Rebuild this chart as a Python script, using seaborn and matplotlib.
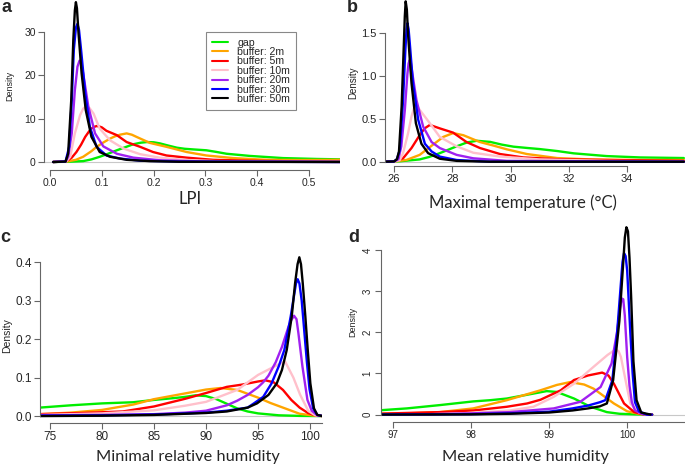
import matplotlib
matplotlib.use("Agg")
import matplotlib.pyplot as plt
from matplotlib.lines import Line2D
import seaborn as sns
import pandas as pd

series_names = ["gap", "buffer: 2m", "buffer: 5m", "buffer: 10m",
                "buffer: 20m", "buffer: 30m", "buffer: 50m"]
series_colors = ["#00ee00", "#ffa500", "#ff0000", "#ffc0cb",
                 "#a020f0", "#0000ff", "#000000"]

# panel a: LPI
lpi_x = {
    "gap": [0.006, 0.03, 0.045, 0.064, 0.08, 0.096, 0.112, 0.129, 0.145, 0.161, 0.175, 0.187, 0.2, 0.212,
            0.228, 0.245, 0.26, 0.277, 0.302, 0.32, 0.341, 0.386, 0.45, 0.515, 0.565],
    "buffer: 2m": [0.006, 0.032, 0.05, 0.064, 0.08, 0.09, 0.103, 0.116, 0.125, 0.135, 0.148, 0.158, 0.167,
                   0.18, 0.193, 0.225, 0.264, 0.302, 0.354, 0.418, 0.483, 0.565],
    "buffer: 5m": [0.006, 0.032, 0.042, 0.051, 0.06, 0.068, 0.075, 0.08, 0.085, 0.09, 0.095, 0.1, 0.109,
                   0.129, 0.148, 0.174, 0.199, 0.225, 0.264, 0.315, 0.386, 0.5, 0.565],
    "buffer: 10m": [0.006, 0.032, 0.039, 0.048, 0.058, 0.064, 0.069, 0.076, 0.084, 0.096, 0.116, 0.142,
                    0.174, 0.212, 0.257, 0.32, 0.4, 0.565],
    "buffer: 20m": [0.006, 0.03, 0.035, 0.042, 0.048, 0.053, 0.057, 0.06, 0.064, 0.074, 0.087, 0.103,
                    0.129, 0.161, 0.212, 0.3, 0.565],
    "buffer: 30m": [0.006, 0.03, 0.037, 0.042, 0.046, 0.05, 0.053, 0.056, 0.06, 0.068, 0.077, 0.09,
                    0.109, 0.135, 0.174, 0.25, 0.565],
    "buffer: 50m": [0.006, 0.03, 0.035, 0.041, 0.045, 0.048, 0.05, 0.052, 0.055, 0.061, 0.069, 0.08,
                    0.096, 0.116, 0.148, 0.193, 0.25, 0.565],
}
lpi_y = {
    "gap": [0, 0.05, 0.1, 0.2, 0.6, 1.2, 1.9, 2.7, 3.4, 4.1, 4.45, 4.6, 4.55, 4.3,
            3.8, 3.3, 3.05, 2.9, 2.7, 2.35, 1.9, 1.4, 0.9, 0.7, 0.6],
    "buffer: 2m": [0, 0.1, 0.5, 1.2, 2.5, 3.5, 4.5, 5.4, 5.9, 6.3, 6.6, 6.3, 5.8,
                   5.1, 4.4, 3.5, 2.3, 1.5, 0.9, 0.5, 0.45, 0.5],
    "buffer: 5m": [0, 0.2, 1.0, 2.3, 4.0, 5.8, 7.0, 7.7, 8.1, 8.3, 8.2, 8.0, 7.2,
                   6.2, 4.6, 3.5, 2.3, 1.5, 1.0, 0.5, 0.3, 0.1, 0.05],
    "buffer: 10m": [0, 0.2, 1.2, 6.6, 10.8, 12.3, 12.8, 12.5, 11.2, 7.7, 5.0, 3.1,
                    1.8, 1.0, 0.5, 0.2, 0.1, 0.02],
    "buffer: 20m": [0, 0.1, 1.2, 6.6, 16.6, 22.0, 23.4, 22.8, 20.5, 12.8, 6.6, 3.6,
                    1.9, 1.0, 0.4, 0.1, 0.0],
    "buffer: 30m": [0, 0.1, 3.5, 14.3, 25.9, 31.0, 31.9, 30.5, 25.9, 15.9, 8.1, 3.5,
                    1.5, 0.8, 0.3, 0.1, 0.0],
    "buffer: 50m": [0, 0.1, 1.9, 14.3, 28.2, 35.0, 36.9, 35.5, 29.8, 20.5, 12.0, 5.8,
                    2.3, 1.2, 0.5, 0.2, 0.05, 0.0],
}

# panel b: maximal temperature
tmax_x = {
    "gap": [25.6, 26.2, 26.88, 27.2, 27.57, 28.15, 28.5, 28.84, 29.3, 29.7, 30.1, 30.6, 31.0, 31.6,
            32.17, 33.3, 34.46, 35.95],
    "buffer: 2m": [25.6, 26.0, 26.42, 26.88, 27.34, 27.69, 28.03, 28.38, 28.95, 29.4, 29.87, 30.56,
                   31.6, 32.74, 34.46, 35.95],
    "buffer: 5m": [25.6, 26.0, 26.31, 26.6, 26.88, 27.05, 27.23, 27.57, 28.03, 28.49, 28.95, 29.64,
                   30.44, 31.6, 33.3, 35.95],
    "buffer: 10m": [25.6, 26.0, 26.2, 26.31, 26.48, 26.6, 26.68, 26.75, 26.83, 26.94, 27.23, 27.57,
                    28.15, 28.72, 29.64, 31.0, 33.3, 35.95],
    "buffer: 20m": [25.6, 26.0, 26.15, 26.25, 26.37, 26.46, 26.5, 26.54, 26.58, 26.63, 26.77, 27.0,
                    27.29, 27.57, 28.15, 28.72, 29.87, 35.95],
    "buffer: 30m": [25.6, 26.0, 26.1, 26.2, 26.31, 26.39, 26.43, 26.46, 26.5, 26.54, 26.65, 26.83,
                    27.06, 27.29, 27.57, 28.15, 29.3, 35.95],
    "buffer: 50m": [25.6, 26.0, 26.1, 26.17, 26.26, 26.33, 26.37, 26.4, 26.44, 26.48, 26.54, 26.6,
                    26.75, 26.94, 27.17, 27.57, 28.15, 29.3, 35.95],
}
tmax_y = {
    "gap": [0, 0.005, 0.027, 0.055, 0.1, 0.18, 0.225, 0.245, 0.232, 0.2, 0.176, 0.16, 0.148, 0.125,
            0.098, 0.066, 0.05, 0.043],
    "buffer: 2m": [0, 0.003, 0.02, 0.08, 0.2, 0.29, 0.335, 0.31, 0.23, 0.19, 0.145, 0.09,
                   0.043, 0.027, 0.02, 0.02],
    "buffer: 5m": [0, 0.003, 0.04, 0.16, 0.31, 0.39, 0.43, 0.39, 0.34, 0.23, 0.16, 0.09,
                   0.05, 0.03, 0.02, 0.01],
    "buffer: 10m": [0, 0.002, 0.02, 0.1, 0.33, 0.53, 0.62, 0.65, 0.63, 0.58, 0.45, 0.29,
                    0.18, 0.105, 0.06, 0.027, 0.01, 0.0],
    "buffer: 20m": [0, 0.002, 0.03, 0.18, 0.6, 1.03, 1.15, 1.19, 1.15, 1.03, 0.72, 0.41,
                    0.23, 0.16, 0.08, 0.04, 0.01, 0.0],
    "buffer: 30m": [0, 0.003, 0.03, 0.14, 0.72, 1.31, 1.55, 1.62, 1.55, 1.39, 0.92, 0.49,
                    0.21, 0.12, 0.06, 0.02, 0.0, 0.0],
    "buffer: 50m": [0, 0.003, 0.03, 0.12, 0.64, 1.31, 1.7, 1.875, 1.78, 1.5, 1.2, 0.92,
                    0.45, 0.21, 0.1, 0.035, 0.01, 0.0, 0.0],
}

# panel c: minimal relative humidity
rhmin_x = {
    "gap": [74.0, 77, 80, 83, 85, 87, 88, 89, 90, 91, 92, 93, 94, 95, 97, 99, 101.2],
    "buffer: 2m": [74.0, 77, 80, 83, 85, 88, 90, 91.4, 93, 95, 96.2, 97.4, 99, 100.5, 101.2],
    "buffer: 5m": [74.0, 78, 82, 85, 88, 90, 92, 93.5, 95, 95.7, 96.5, 97.4, 98.2, 99.0, 99.8,
                   100.5, 101.2],
    "buffer: 10m": [74.0, 80, 85, 88, 90, 93, 95, 96.5, 97.6, 98.4, 99.04, 99.84, 100.5, 101.2],
    "buffer: 20m": [74.0, 80, 85, 88, 90, 92, 93, 94, 95, 95.5, 96, 96.7, 97.3, 97.9, 98.2, 98.46,
                    98.7, 98.88, 99.27, 99.75, 100.16, 100.7, 101.2],
    "buffer: 30m": [74.0, 80, 85, 90, 92, 94, 94.6, 95.5, 96.3, 97, 97.53, 98.14, 98.5, 98.65, 98.81,
                    98.98, 99.2, 99.45, 99.7, 99.95, 100.3, 100.7, 101.2],
    "buffer: 50m": [74.0, 80, 85, 88, 90, 92, 94, 94.9, 96, 96.8, 97.3, 97.76, 98.24, 98.56, 98.8,
                    98.97, 99.13, 99.3, 99.55, 99.78, 100.03, 100.38, 100.7, 101.2],
}
rhmin_y = {
    "gap": [0.022, 0.028, 0.033, 0.036, 0.042, 0.047, 0.05, 0.054, 0.052, 0.044, 0.032, 0.02,
            0.012, 0.007, 0.002, 0.0005, 0],
    "buffer: 2m": [0.005, 0.009, 0.016, 0.03, 0.044, 0.059, 0.069, 0.073, 0.068, 0.048, 0.034,
                   0.022, 0.006, 0.001, 0],
    "buffer: 5m": [0.005, 0.008, 0.012, 0.025, 0.045, 0.06, 0.076, 0.082, 0.09, 0.093, 0.088,
                   0.068, 0.042, 0.022, 0.008, 0.002, 0],
    "buffer: 10m": [0.003, 0.007, 0.015, 0.027, 0.037, 0.068, 0.107, 0.128, 0.142, 0.1, 0.056,
                    0.013, 0.002, 0],
    "buffer: 20m": [0.002, 0.003, 0.005, 0.009, 0.014, 0.028, 0.04, 0.055, 0.075, 0.088, 0.105,
                    0.14, 0.18, 0.23, 0.25, 0.261, 0.252, 0.216, 0.129, 0.042, 0.014, 0.002, 0],
    "buffer: 30m": [0.001, 0.002, 0.004, 0.009, 0.014, 0.022, 0.033, 0.05, 0.085, 0.13, 0.172,
                    0.259, 0.32, 0.345, 0.356, 0.345, 0.3, 0.22, 0.14, 0.07, 0.02, 0.003, 0],
    "buffer: 50m": [0, 0.001, 0.003, 0.006, 0.008, 0.012, 0.022, 0.033, 0.055, 0.085, 0.12,
                    0.172, 0.259, 0.345, 0.395, 0.413, 0.395, 0.345, 0.259, 0.172, 0.085, 0.02,
                    0.003, 0],
}

# panel d: mean relative humidity
rhmean_x = {
    "gap": [96.8, 97.18, 97.6, 98.03, 98.25, 98.46, 98.8, 98.97, 99.1, 99.32, 99.53, 99.74,
            99.9, 100.1, 100.32],
    "buffer: 2m": [96.8, 97.18, 97.6, 98.03, 98.46, 98.89, 99.1, 99.27, 99.45, 99.57, 99.7,
                   99.83, 100.0, 100.17, 100.32],
    "buffer: 5m": [96.8, 97.18, 97.6, 98.03, 98.46, 98.72, 98.89, 99.15, 99.32, 99.5, 99.68,
                   99.76, 99.83, 99.96, 100.09, 100.2, 100.32],
    "buffer: 10m": [96.8, 97.5, 98.0, 98.5, 98.8, 99.06, 99.32, 99.57, 99.75, 99.82, 99.85, 99.89,
                    99.92, 99.98, 100.04, 100.15, 100.25],
    "buffer: 20m": [96.8, 97.5, 98.0, 98.5, 99.06, 99.4, 99.66, 99.8, 99.87, 99.91, 99.93, 99.95,
                    99.97, 100.0, 100.03, 100.06, 100.1, 100.2, 100.3],
    "buffer: 30m": [96.8, 97.5, 98.0, 98.5, 99.0, 99.3, 99.5, 99.65, 99.72, 99.81, 99.87, 99.92,
                    99.94, 99.96, 99.98, 100.0, 100.04, 100.07, 100.1, 100.15, 100.25, 100.32],
    "buffer: 50m": [96.8, 97.5, 98.0, 98.5, 99.0, 99.3, 99.5, 99.65, 99.74, 99.82, 99.9, 99.95,
                    99.97, 99.99, 100.01, 100.03, 100.05, 100.08, 100.12, 100.18, 100.3],
}
rhmean_y = {
    "gap": [0.1, 0.15, 0.23, 0.32, 0.35, 0.39, 0.51, 0.57, 0.55, 0.39, 0.19, 0.06,
            0.02, 0.005, 0],
    "buffer: 2m": [0.02, 0.03, 0.06, 0.15, 0.35, 0.59, 0.72, 0.79, 0.73, 0.63, 0.45,
                   0.27, 0.08, 0.01, 0],
    "buffer: 5m": [0.02, 0.04, 0.06, 0.1, 0.19, 0.27, 0.36, 0.59, 0.84, 0.95, 1.02,
                   0.95, 0.75, 0.27, 0.06, 0.01, 0],
    "buffer: 10m": [0.005, 0.01, 0.04, 0.1, 0.19, 0.43, 0.75, 1.16, 1.45, 1.54, 1.58, 1.54,
                    1.4, 0.83, 0.27, 0.05, 0],
    "buffer: 20m": [0.003, 0.01, 0.03, 0.06, 0.15, 0.31, 0.67, 1.24, 2.0, 2.6, 2.82, 2.8,
                    2.4, 1.4, 0.7, 0.3, 0.1, 0.01, 0],
    "buffer: 30m": [0.002, 0.005, 0.01, 0.03, 0.07, 0.15, 0.22, 0.3, 0.35, 0.83, 1.96, 3.2,
                    3.7, 3.92, 3.85, 3.5, 2.0, 1.0, 0.3, 0.08, 0.0, 0.0],
    "buffer: 50m": [0, 0.002, 0.005, 0.02, 0.05, 0.1, 0.15, 0.2, 0.27, 0.83, 2.27, 3.7,
                    4.3, 4.55, 4.45, 3.8, 2.9, 1.3, 0.35, 0.05, 0],
}

W, H = 685, 465
sns.set_style("ticks")
plt.rcParams["font.family"] = ["Liberation Sans", "DejaVu Sans"]
axis_col = "#666666"
tick_font = "Liberation Sans"
title_font = ["Lato", "DejaVu Sans"]

fig = plt.figure(figsize=(W / 100, H / 100), dpi=100)


def to_frame(xs, ys):
    parts = [pd.DataFrame({"x": xs[n], "density": ys[n], "series": n}) for n in series_names]
    return pd.concat(parts, ignore_index=True)


def make_panel(box, xlim, ylim, xbounds, ybounds, xticks, yticks, tick_size):
    left, top, right, bottom = box
    ax = fig.add_axes([left / W, 1 - bottom / H, (right - left) / W, (bottom - top) / H])
    ax.set_xlim(*xlim)
    ax.set_ylim(*ylim)
    for s in ["top", "right"]:
        ax.spines[s].set_visible(False)
    ax.spines["bottom"].set_bounds(*xbounds)
    ax.spines["left"].set_bounds(*ybounds)
    for s in ["bottom", "left"]:
        ax.spines[s].set_color(axis_col)
        ax.spines[s].set_linewidth(0.8)
    ax.set_xticks(xticks)
    ax.set_yticks(yticks)
    ax.tick_params(direction="out", length=4, width=0.8, color=axis_col,
                   labelsize=tick_size, pad=2)
    ax.axhline(0, color="#c8c8c8", lw=0.8, zorder=0)
    return ax


def draw(ax, xs, ys):
    sns.lineplot(data=to_frame(xs, ys), x="x", y="density", hue="series",
                 hue_order=series_names, palette=series_colors, estimator=None,
                 sort=False, lw=1.7, legend=False, ax=ax)
    ax.set_xlabel("")
    ax.set_ylabel("")


def fix_tick_font(ax):
    for t in ax.get_xticklabels() + ax.get_yticklabels():
        t.set_fontfamily(tick_font)


# a
ax_a = make_panel((44, 0, 340, 170), (-0.0116, 0.56), (-1.85, 37.4), (0, 0.5), (0, 30),
                  [0, 0.1, 0.2, 0.3, 0.4, 0.5], [0, 10, 20, 30], 7.5)
draw(ax_a, lpi_x, lpi_y)
ax_a.set_xticklabels(["0.0", "0.1", "0.2", "0.3", "0.4", "0.5"])
handles = [Line2D([], [], color=c, lw=1.5) for c in series_colors]
leg = ax_a.legend(handles, series_names, loc="upper left", bbox_to_anchor=(0.547, 0.812),
                  borderaxespad=0, prop={"family": tick_font, "size": 7.6}, handlelength=1.5,
                  handletextpad=0.9, labelspacing=-0.06, borderpad=0.55, fancybox=False,
                  framealpha=1)
leg.get_frame().set_edgecolor("#888888")
leg.get_frame().set_linewidth(0.8)

# b
ax_b = make_panel((385, 0, 685, 166), (25.69, 35.99), (-0.05, 1.891), (26, 34), (0, 1.5),
                  [26, 28, 30, 32, 34], [0, 0.5, 1.0, 1.5], 8)
draw(ax_b, tmax_x, tmax_y)
ax_b.set_yticklabels(["0.0", "0.5", "1.0", "1.5"])

# c
ax_c = make_panel((40, 240, 322, 423), (74.04, 101.15), (-0.018, 0.458), (75, 101.15), (0, 0.4),
                  [75, 80, 85, 90, 95, 100], [0, 0.1, 0.2, 0.3, 0.4], 8.5)
draw(ax_c, rhmin_x, rhmin_y)
ax_c.set_yticklabels(["0.0", "0.1", "0.2", "0.3", "0.4"])

# d
ax_d = make_panel((381, 226, 685, 422), (96.85, 100.74), (-0.18, 4.58), (97, 100.74), (0, 4),
                  [97, 98, 99, 100], [0, 1, 2, 3, 4], 7)
draw(ax_d, rhmean_x, rhmean_y)
for t in ax_d.get_yticklabels():
    t.set_rotation(90)
    t.set_va("center")

for ax in [ax_a, ax_b, ax_c, ax_d]:
    fix_tick_font(ax)


def ftext(x, y, s, **kw):
    fig.text(x / W, 1 - y / H, s, **kw)


ftext(190, 199, "LPI", ha="center", va="center", fontsize=12, family=title_font)
ftext(523, 203, "Maximal temperature (°C)", ha="center", va="center", fontsize=12, family=title_font)
ftext(188, 457, "Minimal relative humidity", ha="center", va="center", fontsize=11.8, family=title_font)
ftext(525, 457, "Mean relative humidity", ha="center", va="center", fontsize=11.8, family=title_font)

ftext(10, 86, "Density", ha="center", va="center", rotation=90, fontsize=6.5, family=tick_font)
ftext(353, 83, "Density", ha="center", va="center", rotation=90, fontsize=7, family=tick_font)
ftext(7, 336, "Density", ha="center", va="center", rotation=90, fontsize=7.5, family=tick_font)
ftext(353, 322, "Density", ha="center", va="center", rotation=90, fontsize=6.5, family=tick_font)

for x, y, s in [(7, 8, "a"), (352, 8, "b"), (5, 237, "c"), (354, 237, "d")]:
    ftext(x, y, s, ha="center", va="center", fontsize=13, fontweight="bold", family=tick_font)

fig.savefig("out.png", dpi=100)
